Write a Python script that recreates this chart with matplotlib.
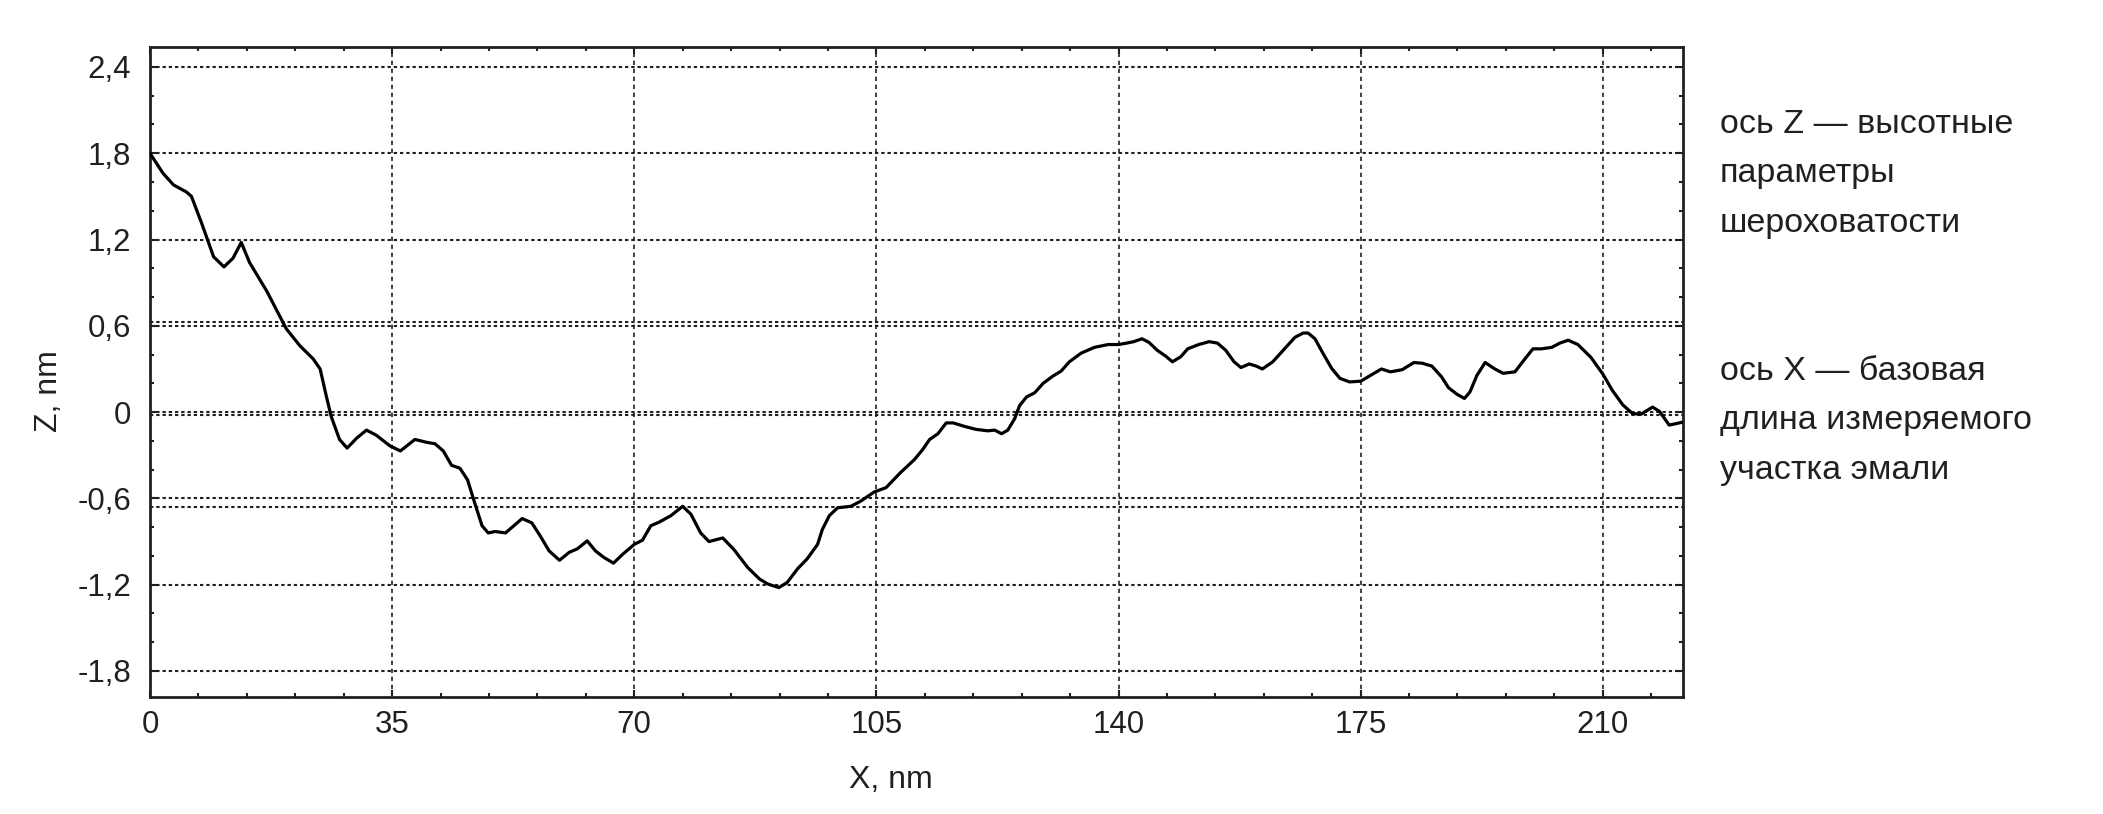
import matplotlib
matplotlib.use("Agg")
import matplotlib.pyplot as plt
from matplotlib.ticker import MultipleLocator

plt.rcParams['font.family'] = ['Liberation Sans', 'DejaVu Sans']

# profile: X in nm, Z in nm
x_nm = [0, 1.9, 3.4, 5.3, 6.0, 7.5, 9.2, 10.7, 12.0, 13.2, 14.4, 16.9, 19.7, 21.7, 23.6,
        24.6, 25.5, 26.2, 27.4, 28.5, 29.9, 31.3, 32.7, 34.7, 36.2, 38.3, 40.0, 41.2, 42.4,
        43.6, 44.8, 45.9, 47.0, 48.0, 48.9, 49.9, 51.4, 52.6, 53.8, 55.2, 56.4, 57.7, 59.2,
        60.6, 61.8, 63.2, 64.4, 65.6, 67.0, 68.3, 70.0, 71.2, 72.4, 73.6, 75.3, 77.0, 78.2,
        79.6, 80.8, 82.8, 84.4, 86.4, 88.1, 89.3, 90.9, 92.1, 93.6, 95.0, 96.5, 97.2, 98.2,
        99.4, 101.3, 102.7, 104.7, 106.4, 108.5, 110.5, 111.7, 112.7, 113.9, 115.1, 116.1,
        117.8, 119.4, 121.1, 122.1, 123.1, 124.0, 125.0, 125.7, 126.7, 127.9, 129.1, 130.5,
        131.7, 132.9, 134.6, 136.5, 138.5, 140.0, 141.2, 142.2, 143.4, 144.4, 145.6, 146.8,
        147.8, 149.0, 150.0, 151.6, 153.1, 154.3, 155.5, 156.7, 157.7, 158.9, 159.9, 160.8,
        162.3, 164.0, 165.5, 166.7, 167.4, 168.4, 169.6, 170.8, 172.0, 173.4, 175.0, 176.4,
        178.0, 179.3, 181.0, 182.7, 183.9, 185.3, 186.7, 187.7, 188.9, 190.0, 190.8, 191.8,
        193.0, 194.4, 195.6, 197.3, 198.5, 199.9, 201.1, 202.6, 203.8, 205.0, 206.4, 208.3,
        210.0, 211.4, 212.9, 214.3, 215.5, 217.2, 218.2, 219.6, 220.6, 221.5]
z_nm = [1.80, 1.66, 1.58, 1.53, 1.50, 1.31, 1.08, 1.01, 1.07, 1.18, 1.04, 0.84, 0.58, 0.46, 0.37,
        0.30, 0.11, -0.03, -0.19, -0.25, -0.18, -0.125, -0.16, -0.235, -0.27, -0.19, -0.21, -0.22, -0.27,
        -0.37, -0.39, -0.47, -0.64, -0.79, -0.84, -0.83, -0.84, -0.79, -0.74, -0.77, -0.86, -0.965, -1.03,
        -0.975, -0.95, -0.895, -0.965, -1.01, -1.05, -0.99, -0.92, -0.89, -0.79, -0.765, -0.72, -0.655, -0.71,
        -0.84, -0.90, -0.875, -0.955, -1.08, -1.16, -1.195, -1.22, -1.185, -1.09, -1.02, -0.92, -0.815, -0.72,
        -0.665, -0.655, -0.62, -0.555, -0.525, -0.42, -0.33, -0.26, -0.19, -0.15, -0.075, -0.075,
        -0.10, -0.12, -0.13, -0.125, -0.15, -0.125, -0.045, 0.045, 0.105, 0.135, 0.20, 0.25,
        0.285, 0.35, 0.41, 0.45, 0.47, 0.47, 0.48, 0.49, 0.51, 0.485, 0.43, 0.39,
        0.35, 0.385, 0.44, 0.47, 0.49, 0.48, 0.43, 0.35, 0.31, 0.335, 0.32, 0.30,
        0.35, 0.44, 0.52, 0.55, 0.55, 0.51, 0.405, 0.305, 0.235, 0.21, 0.215, 0.255,
        0.30, 0.28, 0.295, 0.345, 0.34, 0.32, 0.245, 0.17, 0.125, 0.095, 0.14, 0.255,
        0.345, 0.30, 0.27, 0.28, 0.355, 0.44, 0.44, 0.45, 0.48, 0.50, 0.47, 0.38,
        0.265, 0.15, 0.05, -0.01, -0.015, 0.035, 0.005, -0.09, -0.08, -0.07]

x_ticks = [0, 35, 70, 105, 140, 175, 210]
z_ticks = [-1.8, -1.2, -0.6, 0, 0.6, 1.2, 1.8, 2.4]
z_ticklabels = ['-1,8', '-1,2', '-0,6', '0', '0,6', '1,2', '1,8', '2,4']
# extra roughness reference lines drawn next to the grid
ref_lines = [0.625, -0.022, -0.663]

note_z = ['ось Z — высотные', 'параметры', 'шероховатости']
note_x = ['ось X — базовая', 'длина измеряемого', 'участка эмали']

ink = '#231f20'

fig = plt.figure(figsize=(21.03, 8.14), dpi=100)
ax = fig.add_axes([0.0713, 0.1437, 0.7290, 0.7986])

for z in z_ticks + ref_lines:
    ax.axhline(z, color=ink, lw=1.5, linestyle=(0, (1.6, 1.4)), zorder=1)
for x in x_ticks[1:]:
    ax.axvline(x, color=ink, lw=1.2, linestyle=(0, (2.6, 2.2)), zorder=1)

ax.plot(x_nm, z_nm, color='black', lw=2.3, solid_joinstyle='round', zorder=3)

ax.set_xlim(0, 221.6)
ax.set_ylim(-1.981, 2.539)
ax.set_xticks(x_ticks)
ax.set_yticks(z_ticks)
ax.set_yticklabels(z_ticklabels)
ax.xaxis.set_minor_locator(MultipleLocator(7))
ax.yaxis.set_minor_locator(MultipleLocator(0.2))

ax.tick_params(which='both', direction='in', top=True, right=True, colors=ink,
               labelsize=22.5, width=1.5)
ax.tick_params(which='major', length=5)
ax.tick_params(which='minor', length=3)
ax.tick_params(axis='y', pad=13.5)
ax.tick_params(axis='x', pad=9.5)
for s in ax.spines.values():
    s.set_linewidth(2.0)
    s.set_color(ink)

ax.set_xlabel('X, nm', fontsize=23, color=ink)
ax.set_ylabel('Z, nm', fontsize=23, color=ink)
ax.xaxis.set_label_coords(0.483, -0.105)
ax.yaxis.set_label_coords(-0.056, 0.47)

for i, line in enumerate(note_z):
    fig.text(0.8179, 1 - (132.7 + 49.5 * i) / 814, line, fontsize=24.5, color=ink, va='baseline')
for i, line in enumerate(note_x):
    fig.text(0.8179, 1 - (380 + 49.5 * i) / 814, line, fontsize=24.5, color=ink, va='baseline')

fig.savefig('out.png', dpi=100)
